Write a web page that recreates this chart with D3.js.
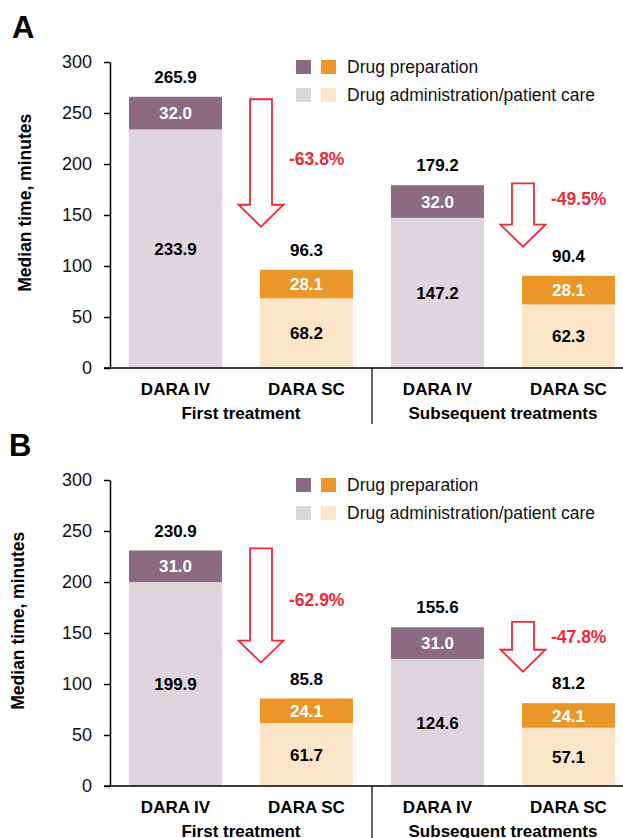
<!DOCTYPE html>
<html>
<head>
<meta charset="utf-8">
<script src="https://cdn.jsdelivr.net/npm/d3@7"></script>
<style>
  body { margin: 0; background: #fff; }
  svg { display: block; font-family: "Liberation Sans", Arial, sans-serif; }
</style>
</head>
<body>
<svg id="chart" width="623" height="838"></svg>
<script>
// bars, left to right
const barKeys = ["first-iv", "first-sc", "sub-iv", "sub-sc"];
const barLabels = ["DARA IV", "DARA SC", "DARA IV", "DARA SC"];
const groupLabels = ["First treatment", "Subsequent treatments"];
const yTicks = [0, 50, 100, 150, 200, 250, 300];

// panel A
const prepA = [32.0, 28.1, 32.0, 28.1];
const adminA = [233.9, 68.2, 147.2, 62.3];
const totalA = [265.9, 96.3, 179.2, 90.4];
const changeA = ["-63.8%", "-49.5%"];
const arrowTopA = [263.5, 181];
const arrowTipA = [138.5, 119];
const changeLabelA = [205.5, 166];

// panel B
const prepB = [31.0, 24.1, 31.0, 24.1];
const adminB = [199.9, 61.7, 124.6, 57.1];
const totalB = [230.9, 85.8, 155.6, 81.2];
const changeB = ["-62.9%", "-47.8%"];
const arrowTopB = [233, 161];
const arrowTipB = [121, 112];
const changeLabelB = [183, 146.5];

const COLORS = {
    prepIV: "#8b6a82",
    adminIV: "#dfd5dd",
    prepSC: "#ea9629",
    adminSC: "#fce5c9",
    red: "#ee2a35"
};

const svg = d3.select("#chart");

function drawPanel(letter, top, yLabelX, prep, admin, total, change, arrowTop, arrowTip, labelY) {
    const g = svg.append("g");
    const axisX = 110;
    const plotH = 306;
    const base = top + plotH;

    const scX = d3.scaleBand()
        .domain(barKeys)
        .range([axisX, 634])
        .paddingInner(0.29)
        .paddingOuter(0.145);

    const scY = d3.scaleLinear()
        .domain([0, 300])
        .range([base, top]);

    // panel letter
    g.append("text")
        .attr("x", letter === "A" ? 12 : 9)
        .attr("y", top - 24)
        .attr("font-size", 31)
        .attr("font-weight", "bold")
        .text(letter);

    const data = barKeys.map((k, i) => ({
        key: k, prep: prep[i], admin: admin[i], total: total[i], iv: i % 2 === 0
    }));

    // bars: admin (bottom) then prep (top)
    g.selectAll(".admin")
        .data(data)
        .enter()
        .append("rect")
        .attr("x", d => scX(d.key))
        .attr("width", scX.bandwidth())
        .attr("y", d => scY(d.admin))
        .attr("height", d => scY(0) - scY(d.admin))
        .style("fill", d => d.iv ? COLORS.adminIV : COLORS.adminSC);

    g.selectAll(".prep")
        .data(data)
        .enter()
        .append("rect")
        .attr("x", d => scX(d.key))
        .attr("width", scX.bandwidth())
        .attr("y", d => scY(d.admin + d.prep))
        .attr("height", d => scY(d.admin) - scY(d.admin + d.prep))
        .style("fill", d => d.iv ? COLORS.prepIV : COLORS.prepSC);

    const cx = d => scX(d.key) + scX.bandwidth() / 2;

    // labels
    g.selectAll(".lblAdmin")
        .data(data)
        .enter()
        .append("text")
        .attr("x", cx)
        .attr("y", d => scY(d.admin / 2))
        .attr("dy", "0.36em")
        .attr("text-anchor", "middle")
        .attr("font-size", 17)
        .attr("font-weight", "bold")
        .text(d => d.admin.toFixed(1));

    g.selectAll(".lblPrep")
        .data(data)
        .enter()
        .append("text")
        .attr("x", cx)
        .attr("y", d => scY(d.admin + d.prep / 2))
        .attr("dy", "0.36em")
        .attr("text-anchor", "middle")
        .attr("font-size", 17)
        .attr("font-weight", "bold")
        .style("fill", "#fff")
        .text(d => d.prep.toFixed(1));

    g.selectAll(".lblTotal")
        .data(data)
        .enter()
        .append("text")
        .attr("x", cx)
        .attr("y", d => scY(d.total) - 20)
        .attr("dy", "0.36em")
        .attr("text-anchor", "middle")
        .attr("font-size", 17)
        .attr("font-weight", "bold")
        .text(d => d.total.toFixed(1));

    // y axis
    const axisY = d3.axisLeft(scY)
        .tickValues(yTicks)
        .tickSize(6)
        .tickSizeOuter(0)
        .tickPadding(12);

    const ay = g.append("g")
        .attr("transform", `translate(${axisX},0)`)
        .call(axisY);
    ay.select(".domain").attr("stroke", "#000").attr("stroke-width", 1.5);
    ay.selectAll(".tick line").attr("stroke", "#000").attr("stroke-width", 1.5);
    ay.selectAll(".tick text")
        .attr("font-size", 18)
        .attr("font-family", "Liberation Sans, Arial, sans-serif")
        .style("fill", "#111");

    // x axis baseline
    g.append("line")
        .attr("x1", axisX - 6)
        .attr("x2", 623)
        .attr("y1", base)
        .attr("y2", base)
        .attr("stroke", "#000")
        .attr("stroke-width", 1.5);

    // separator between groups
    const sepX = (scX(barKeys[1]) + scX.bandwidth() + scX(barKeys[2])) / 2;
    g.append("line")
        .attr("x1", sepX)
        .attr("x2", sepX)
        .attr("y1", base)
        .attr("y2", base + 56)
        .attr("stroke", "#000")
        .attr("stroke-width", 1.2);

    // category labels
    g.selectAll(".cat")
        .data(data)
        .enter()
        .append("text")
        .attr("x", cx)
        .attr("y", base + 21)
        .attr("dy", "0.36em")
        .attr("text-anchor", "middle")
        .attr("font-size", 17)
        .attr("font-weight", "bold")
        .text((d, i) => barLabels[i]);

    groupLabels.forEach((lbl, j) => {
        const x = (cx(data[2 * j]) + cx(data[2 * j + 1])) / 2;
        g.append("text")
            .attr("x", x)
            .attr("y", base + 45)
            .attr("dy", "0.36em")
            .attr("text-anchor", "middle")
            .attr("font-size", 17)
            .attr("font-weight", "bold")
            .text(lbl);
    });

    // y axis title
    g.append("text")
        .attr("transform", `translate(${yLabelX}, ${scY(162)}) rotate(-90)`)
        .attr("text-anchor", "middle")
        .attr("dy", "0.36em")
        .attr("font-size", 17.5)
        .attr("font-weight", "bold")
        .text("Median time, minutes");

    // arrows (hollow, red) at the SC bars
    const shaftW = 22, headW = 45, headH = 22;
    [1, 3].forEach((bi, j) => {
        const ax = scX(barKeys[bi]) + 1;
        const y1 = scY(arrowTop[j]);
        const y2 = scY(arrowTip[j]);
        const hb = y2 - headH;
        const path = `M${ax - shaftW / 2},${y1}L${ax + shaftW / 2},${y1}L${ax + shaftW / 2},${hb}` +
            `L${ax + headW / 2},${hb}L${ax},${y2}L${ax - headW / 2},${hb}L${ax - shaftW / 2},${hb}Z`;
        g.append("path")
            .attr("d", path)
            .attr("fill", "#fff")
            .attr("stroke", COLORS.red)
            .attr("stroke-width", 1.8);

        g.append("text")
            .attr("x", ax + 28)
            .attr("y", scY(labelY[j]))
            .attr("dy", "0.36em")
            .attr("font-size", 17.5)
            .attr("font-weight", "bold")
            .style("fill", COLORS.red)
            .text(change[j]);
    });

    // legend
    const legend = [
        { c: [COLORS.prepIV, COLORS.prepSC], t: "Drug preparation" },
        { c: [COLORS.adminIV, COLORS.adminSC], t: "Drug administration/patient care" }
    ];
    legend.forEach((l, i) => {
        const ly = top + 5 + i * 28;
        l.c.forEach((c, k) => {
            g.append("rect")
                .attr("x", 296 + k * 25)
                .attr("y", ly - 7)
                .attr("width", 15)
                .attr("height", 14)
                .style("fill", c);
        });
        g.append("text")
            .attr("x", 347)
            .attr("y", ly)
            .attr("dy", "0.36em")
            .attr("font-size", 17.5)
            .style("fill", "#111")
            .text(l.t);
    });
}

drawPanel("A", 62, 25, prepA, adminA, totalA, changeA, arrowTopA, arrowTipA, changeLabelA);
drawPanel("B", 480, 18, prepB, adminB, totalB, changeB, arrowTopB, arrowTipB, changeLabelB);
</script>
</body>
</html>
